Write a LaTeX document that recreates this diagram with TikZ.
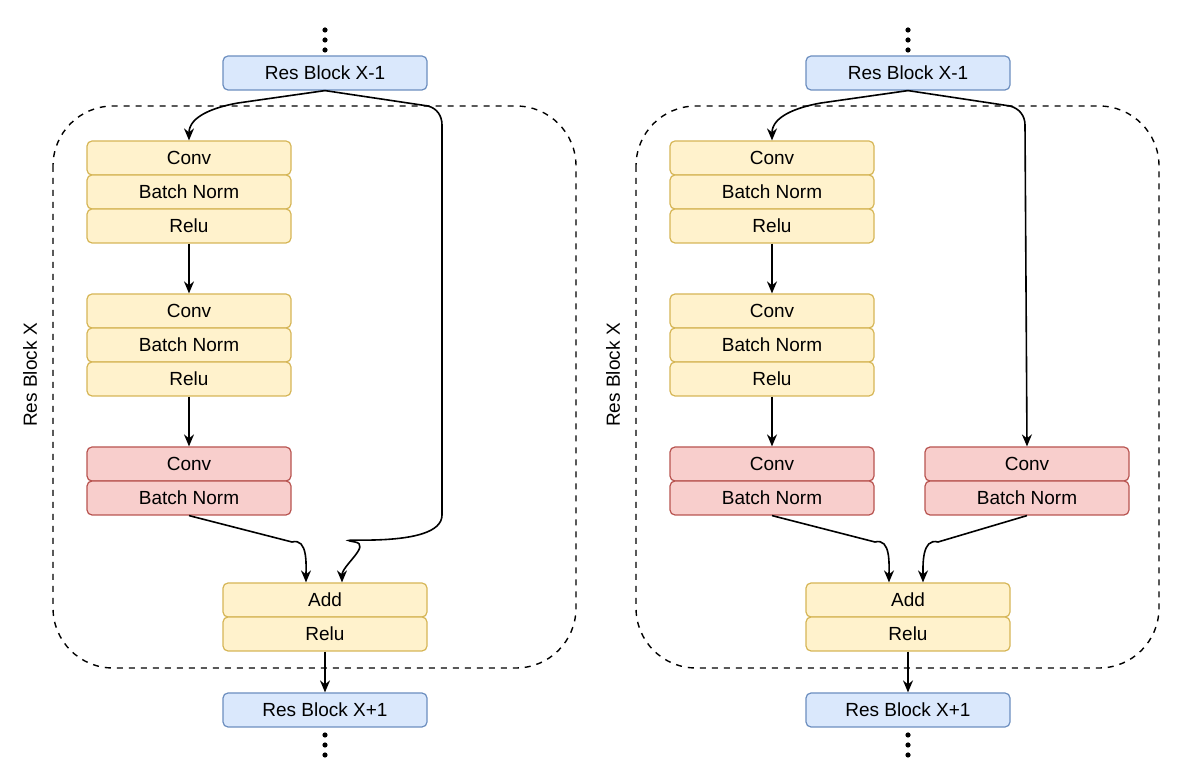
\documentclass[tikz,border=0pt]{standalone}
\usepackage{fontspec}
\setmainfont{Liberation Sans}
\usetikzlibrary{arrows.meta}
\definecolor{bfill}{HTML}{DAE8FC}\definecolor{bdraw}{HTML}{6C8EBF}
\definecolor{yfill}{HTML}{FFF2CC}\definecolor{ydraw}{HTML}{D6B656}
\definecolor{rfill}{HTML}{F8CECC}\definecolor{rdraw}{HTML}{B85450}
\tikzset{
 box/.style={minimum width=102pt,minimum height=17pt,rounded corners=2.5pt,line width=0.6pt,inner sep=0pt,font=\fontsize{9.5}{11}\selectfont},
 bbox/.style={box,fill=bfill,draw=bdraw},
 ybox/.style={box,fill=yfill,draw=ydraw},
 rbox/.style={box,fill=rfill,draw=rdraw},
 arr/.style={-{Stealth[length=6pt,width=5pt]},line width=0.8pt},
 dotc/.style={circle,fill=black,inner sep=0pt,minimum size=2.6pt}
}
\newcommand\resdiag[2]{%
\begin{scope}[xshift=#1]
 \node[dotc] (#2d1) at (325,30) {};\node[dotc] (#2d2) at (325,40) {};\node[dotc] (#2d3) at (325,50) {};
 \node[dotc] (#2e1) at (325,735) {};\node[dotc] (#2e2) at (325,745) {};\node[dotc] (#2e3) at (325,755) {};
 \draw[dashed,line width=0.7pt,rounded corners=30pt] (53,106) rectangle (576,668);
 \node[rotate=90,font=\fontsize{9.5}{11}\selectfont] (#2lab) at (30,375) {Res Block X};
 \node[bbox] (#2x1) at (325,73) {Res Block X-1};
 \node[ybox] (#2c1) at (189,158) {Conv};
 \node[ybox] (#2b1) at (189,192) {Batch Norm};
 \node[ybox] (#2r1) at (189,226) {Relu};
 \node[ybox] (#2c2) at (189,311) {Conv};
 \node[ybox] (#2b2) at (189,345) {Batch Norm};
 \node[ybox] (#2r2) at (189,379) {Relu};
 \node[rbox] (#2c3) at (189,464) {Conv};
 \node[rbox] (#2b3) at (189,498) {Batch Norm};
 \node[ybox] (#2add) at (325,600) {Add};
 \node[ybox] (#2ra) at (325,634) {Relu};
 \node[bbox] (#2x2) at (325,710) {Res Block X+1};
 \draw[arr] (#2x1.south) -- (238,103) to[out=190,in=90] (#2c1.north);
 \draw[arr] (#2r1.south) -- (#2c2.north);
 \draw[arr] (#2r2.south) -- (#2c3.north);
 \draw[arr] (#2b3.south) -- (292,542) to[out=15,in=90] (#2add.north -| 306,0);
 \draw[arr] (#2ra.south) -- (#2x2.north);
\end{scope}}
\begin{document}
\begin{tikzpicture}[x=0.5pt,y=-0.5pt]
\useasboundingbox (0,0) rectangle (1200,774);
\resdiag{0}{L}
\draw[arr] (Lx1.south) -- (428,106) to[out=-15,in=90] (442,125) -- (442,515) to[out=-90,in=170] (355,542) to[out=-10,in=90] (Ladd.north -| 342,0);
\resdiag{291.5pt}{R}
\node[rbox] (Rc4) at (1027,464) {Conv};
\node[rbox] (Rb4) at (1027,498) {Batch Norm};
\draw[arr] (Rx1.south) -- (1010,106) to[out=-15,in=90] (1025,125) -- (Rc4.north);
\draw[arr] (Rb4.south) -- (938,542) to[out=165,in=90] (Radd.north -| 923,0);
\end{tikzpicture}
\end{document}
